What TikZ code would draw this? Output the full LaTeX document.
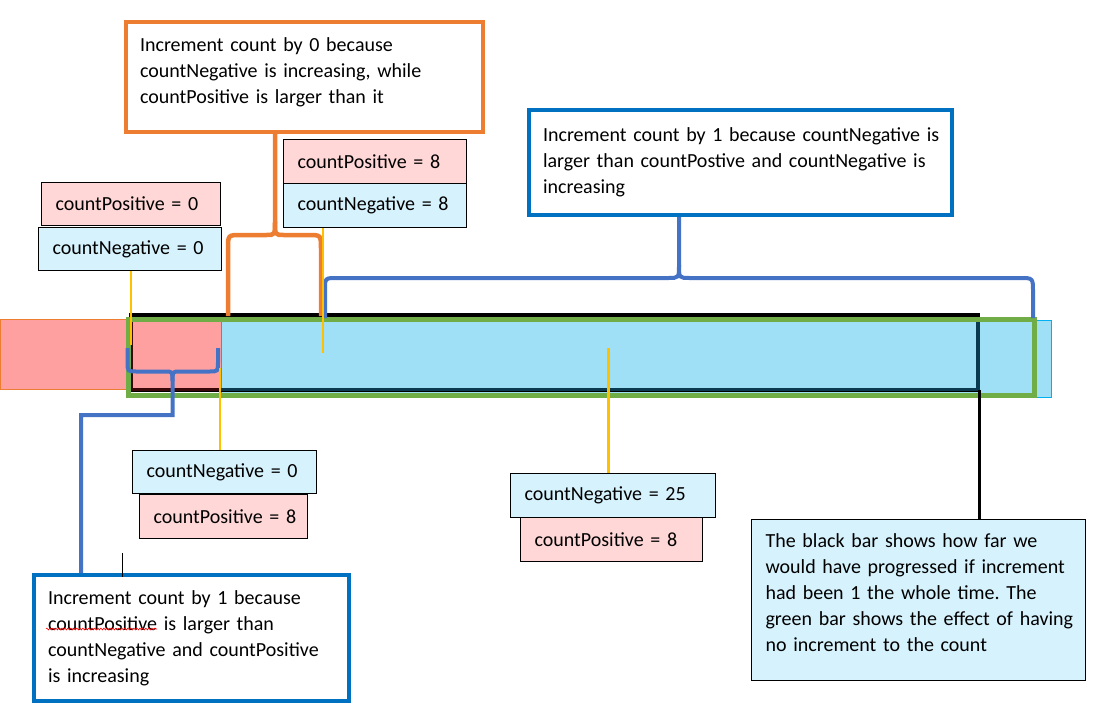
\documentclass[tikz,border=0pt]{standalone}
\usepackage{fontspec}
\setmainfont{Carlito}
\usetikzlibrary{decorations.pathmorphing}
\frenchspacing
\definecolor{pinkfill}{HTML}{FFD7D7}
\definecolor{bluefill}{HTML}{D6F2FC}
\definecolor{barred}{HTML}{FFA0A0}
\definecolor{barblue}{HTML}{A0E0F7}
\definecolor{oorange}{HTML}{ED7D31}
\definecolor{bblue}{HTML}{4472C4}
\definecolor{boxblue}{HTML}{0070C0}
\definecolor{ggreen}{HTML}{70AD47}
\definecolor{yyellow}{HTML}{FFC000}
\definecolor{ccyan}{HTML}{00B0F0}
\definecolor{darknavy}{HTML}{0A3A50}
\definecolor{darkred}{HTML}{3A0808}
\begin{document}
\begin{tikzpicture}[x=1pt,y=-1pt,
  txt/.style={font=\fontsize{20}{26}\selectfont\frenchspacing, align=left, inner xsep=14pt, inner ysep=0pt, anchor=north west},
  smallbox/.style={txt, draw=black, line width=1.1pt, minimum height=44pt},
  pinkbox/.style={smallbox, fill=pinkfill},
  bluebox/.style={smallbox, fill=bluefill},
  bigbox/.style={txt, line width=4pt, fill=white},
  bbrace/.style={draw=bblue, line width=4pt},
  obrace/.style={draw=oorange, line width=4.5pt},
  yline/.style={draw=yyellow, line width=2.5pt},
]
\useasboundingbox (0,0) rectangle (1102,715);

% bars
\draw[fill=barred, draw=oorange, line width=0.8pt] (0,319) rectangle (221,389);
\draw[fill=barblue, draw=ccyan, line width=0.8pt] (221,320) rectangle (1051,397);
\draw[black, line width=4pt] (131,315) rectangle (978,389.5);
\draw[darkred, line width=3.5pt] (131,320) -- (131,389.5) -- (221,389.5);
\draw[darknavy, line width=3.5pt] (221,389.5) -- (978,389.5) -- (978,320);
\draw[ggreen, line width=5pt] (128.5,319.5) rectangle (1034,395);

% boxes
\node[pinkbox, minimum width=179pt, text width=151pt, minimum height=43pt] (pos0) at (41,182) {\mbox{countPositive = 0}};
\node[bluebox, minimum width=183pt, text width=155pt, minimum height=43pt] (neg0) at (38,227) {\mbox{countNegative = 0}};
\node[pinkbox, minimum width=183pt, text width=155pt] (pos8) at (283,139) {\mbox{countPositive = 8}};
\node[bluebox, minimum width=183pt, text width=155pt] (neg8) at (283,183) {\mbox{countNegative = 8}};
\node[bluebox, minimum width=184pt, text width=156pt, minimum height=43pt] (neg0b) at (132,450) {\mbox{countNegative = 0}};
\node[pinkbox, minimum width=168pt, text width=140pt] (pos8b) at (139,494) {\mbox{countPositive = 8}};
\node[bluebox, minimum width=205pt, text width=177pt] (neg25) at (510,473) {\mbox{countNegative = 25}};
\node[pinkbox, minimum width=182pt, text width=154pt] (pos8c) at (520,517) {\mbox{countPositive = 8}};

\node[bigbox, draw=oorange, minimum width=357pt, minimum height=110pt, text width=329pt] (obox) at (124,20)
  {\mbox{Increment count by 0 because}\\\mbox{countNegative is increasing, while}\\\mbox{countPositive is larger than it}\\[-14pt]\mbox{}};
\node[bigbox, draw=boxblue, minimum width=423pt, minimum height=105pt, text width=395pt] (rbox) at (527,108)
  {\mbox{Increment count by 1 because countNegative is}\\\mbox{larger than countPostive and countNegative is}\\\mbox{increasing}};
\node[bigbox, draw=boxblue, minimum width=315pt, minimum height=126pt, text width=287pt] (lbox) at (32,573)
  {\mbox{Increment count by 1 because}\\\mbox{countPositive is larger than}\\\mbox{countNegative and countPositive}\\\mbox{is increasing}};
\node[txt, draw=black, line width=1.1pt, fill=bluefill, minimum width=334pt, minimum height=161pt, text width=306pt] (note) at (751,519)
  {\mbox{The black bar shows how far we}\\\mbox{would have progressed if increment}\\\mbox{had been 1 the whole time. The}\\\mbox{green bar shows the effect of having}\\\mbox{no increment to the count}\\[-10pt]\mbox{}};

% spelling squiggle
\draw[red, line width=0.6pt, decorate, decoration={snake, amplitude=0.9pt, segment length=3pt}] (46,629) -- (157,629);
% cursor tick
\draw[black, line width=0.8pt] (122,553) -- (122,577);

% orange brace
\draw[obrace] (228,316) -- (228,249) .. controls (228,235) .. (241,235) -- (266,235) .. controls (275,235) .. (275,222) -- (obox.south -| 275,0);
\draw[obrace] (321,316) -- (321,249) .. controls (321,235) .. (308,235) -- (284,235) .. controls (275,235) .. (275,222);

% top blue brace
\draw[bbrace] (325,318) -- (325,290) .. controls (325,278) .. (337,278) -- (668,278) .. controls (679,278) .. (679,265) -- (rbox.south -| 679,0);
\draw[bbrace] (679,265) .. controls (679,278) .. (690,278) -- (1020,278) .. controls (1033,278) .. (1033,292) -- (1033,318);

% bottom blue brace with leader
\draw[bbrace] (127.5,348) -- (127.5,362) .. controls (127.5,371.5) .. (137,371.5) -- (165,371.5) .. controls (172.5,371.5) .. (172.5,381) -- (172.5,415) -- (81,415) -- (lbox.north -| 81,0);
\draw[bbrace] (172.5,381) .. controls (172.5,371.5) .. (180,371.5) -- (209,371.5) .. controls (218,371.5) .. (218,362) -- (218,348);

% yellow pointers
\draw[yline] (neg0.south -| 131,0) -- (131,345);
\draw[yline] (neg8.south -| 323,0) -- (323,353);
\draw[yline] (220,368) -- (neg0b.north -| 220,0);
\draw[yline] (608.5,348) -- (neg25.north -| 608.5,0);

% black leader
\draw[black, line width=3pt] (979,390) -- (note.north -| 979,0);
\end{tikzpicture}
\end{document}
